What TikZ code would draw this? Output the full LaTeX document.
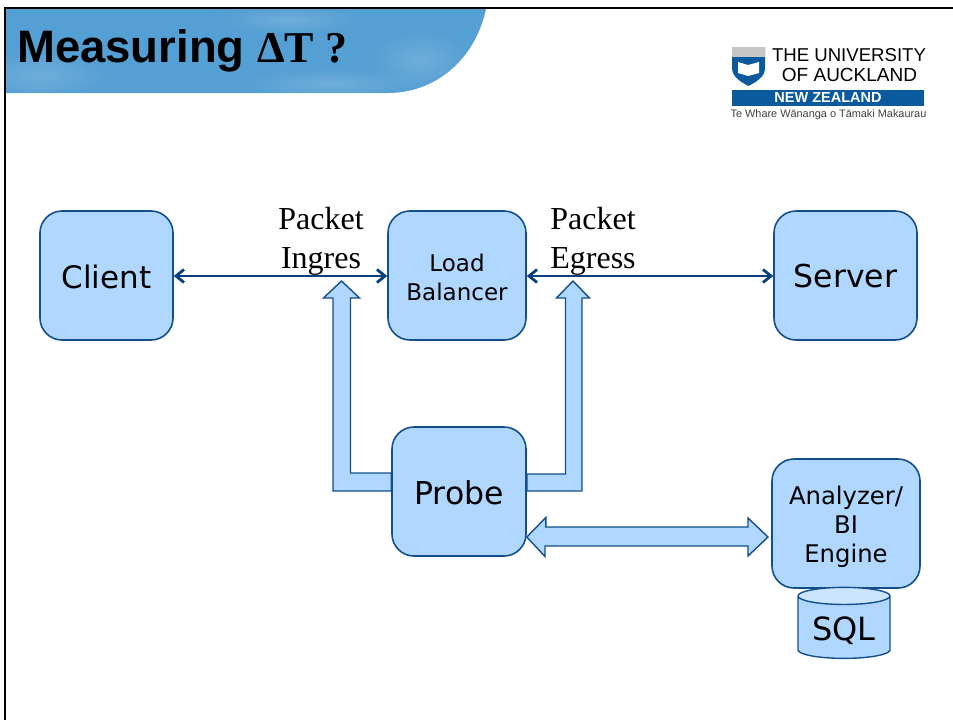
\documentclass[tikz,border=0pt]{standalone}
\usepackage{fontspec}
\setmainfont{Liberation Serif}
\setsansfont{DejaVu Sans}
\newfontfamily\arialfont{Liberation Sans}
\usepackage{tikz}
\usetikzlibrary{arrows.meta,positioning,shapes.geometric,fadings}
\definecolor{boxfill}{HTML}{B0D7FF}
\definecolor{boxline}{HTML}{124F8C}
\definecolor{linkblue}{HTML}{0B4080}
\definecolor{bannerblue}{HTML}{549FD3}
\definecolor{logoblue}{HTML}{0B5A9E}
\newcommand{\droptext}[2]{\raisebox{-#1}[\height][\depth]{#2}}
\tikzset{
  box/.style={draw=boxline, fill=boxfill, line width=1.6pt, rounded corners=22pt, align=center, font=\sffamily, inner sep=0pt},
  blockarrow/.style={draw=boxline, fill=boxfill, line width=1.4pt, line join=miter},
  link/.style={draw=linkblue, line width=2.8pt, {Straight Barb[length=8pt,width=13pt]}-{Straight Barb[length=8pt,width=13pt]}},
  tag/.style={font=\fontsize{32}{39}\selectfont, align=center, inner sep=0pt},
  blob/.style={fill=white, opacity=0.16, path fading=fuzzy}
}
\tikzfading[name=fuzzy, inner color=transparent!0, outer color=transparent!100]
\begin{document}
\begin{tikzpicture}[x=1pt,y=-1pt,on grid]
\useasboundingbox (0,0) rectangle (953,720);

% banner
\begin{scope}
\clip (6,9) -- (486,9) .. controls (475,60) and (435,93) .. (388,93) -- (6,93) -- cycle;
\fill[bannerblue] (0,0) rectangle (490,95);
\fill[blob] (40,75) ellipse [x radius=70, y radius=24];
\fill[blob] (330,84) ellipse [x radius=90, y radius=16];
\fill[blob] (290,20) ellipse [x radius=70, y radius=14];
\fill[blob] (420,60) ellipse [x radius=50, y radius=30];
\end{scope}
\draw[black, line width=2.6pt] (5,720) -- (5,8) -- (953,8);
\node[anchor=base west, inner sep=0pt, font=\arialfont\bfseries\fontsize{45.5}{50}\selectfont] (n_title) at (17,62) {Measuring \rmfamily\fontsize{44}{50}\selectfont ΔT ?};

% logo
\fill[logoblue] (732,47) -- (765,47) -- (765,68) .. controls (765,77) and (756,82) .. (748.5,86) .. controls (741,82) and (732,77) .. (732,68) -- cycle;
\fill[gray!45] (732,47) rectangle (765,57);
\fill[white] (738,62) -- (748,65) -- (759,62) -- (759,73) -- (748,76) -- (738,73) -- cycle;
\node[inner sep=0pt, font=\arialfont\fontsize{18.6}{20}\selectfont] (n_logo1) at (849,55) {THE UNIVERSITY};
\node[inner sep=0pt, font=\arialfont\fontsize{19}{20}\selectfont] (n_logo2) at (849.5,75) {OF AUCKLAND};
\fill[logoblue] (732,90) rectangle (924,106);
\node[inner sep=0pt, text=white, font=\arialfont\bfseries\fontsize{14.5}{15}\selectfont] (n_logo3) at (828,98) {NEW ZEALAND};
\node[inner sep=0pt, text=black!75, font=\arialfont\fontsize{10.9}{12}\selectfont] (n_logo4) at (828.5,114.5) {Te Whare Wānanga o Tāmaki Makaurau};

% boxes
\node[box, minimum width=133pt, minimum height=129pt, font=\sffamily\fontsize{31}{36}\selectfont] (b_client) at (106.5,275.5) {\droptext{1pt}{Client}};
\node[box, minimum width=138pt, minimum height=129pt, font=\sffamily\fontsize{23}{29}\selectfont] (b_balancer) [right=350.5pt of b_client] {\droptext{2pt}{Load}\\\droptext{2pt}{Balancer}};
\node[box, minimum width=143pt, minimum height=129pt, font=\sffamily\fontsize{31.5}{36}\selectfont] (b_server) [right=388.5pt of b_balancer] {\droptext{1pt}{Server}};
\node[box, minimum width=134pt, minimum height=129pt, font=\sffamily\fontsize{31.5}{36}\selectfont] (b_probe) [below=216pt of b_balancer, xshift=2pt] {\droptext{1pt}{Probe}};
\node[box, minimum width=148pt, minimum height=129pt, font=\sffamily\fontsize{24.3}{29}\selectfont] (b_analyzer) [right=387pt of b_probe, yshift=-32pt] {\droptext{3.5pt}{Analyzer/}\\\droptext{3.5pt}{BI}\\\droptext{3.5pt}{Engine}};
\node[draw=boxline, line width=1.4pt, cylinder, shape border rotate=90, shape aspect=0.27, minimum width=92pt, minimum height=71pt, inner sep=0pt,
  cylinder uses custom fill, cylinder body fill=boxfill, cylinder end fill=boxfill!65!white, font=\sffamily\fontsize{32}{36}\selectfont] (d_sql) [below=104pt of b_analyzer, xshift=-2pt] {\droptext{3pt}{SQL}};

% labels
\node[tag] (t_ingres) at (321,241) {Packet\\Ingres};
\node[tag] (t_egress) at (593,241) {Packet\\Egress};

% links
\draw[link] (b_client.east |- 0,276) -- (b_balancer.west |- 0,276);
\draw[link] (b_balancer.east |- 0,276) -- (b_server.west |- 0,276);

% block arrows
\coordinate (c_ingres) at (341.5,281);
\coordinate (c_egress) at (573,281);
\coordinate (c_probe) at (b_probe.east |- 0,537);
\coordinate (c_analyzer) at (768,537);
\draw[blockarrow] (c_ingres) -- ++(18,17) -- ++(-9,0) -- (350.5,473) -- (b_probe.west |- 0,473) -- (b_probe.west |- 0,491) -- (333,491) -- (333,298) -- (323.5,298) -- cycle;
\draw[blockarrow] (c_egress) -- ++(16.5,17) -- ++(-7.5,0) -- (582,491) -- (b_probe.east |- 0,491) -- (b_probe.east |- 0,474) -- (565.5,474) -- (565.5,298) -- (556.5,298) -- cycle;
\draw[blockarrow] (c_probe) -- ++(19,-19.5) -- ++(0,9.5) -- (748,527) -- (748,518) -- (c_analyzer) -- (748,556) -- (748,546) -- (545,546) -- (545,556.5) -- cycle;
\end{tikzpicture}
\end{document}
